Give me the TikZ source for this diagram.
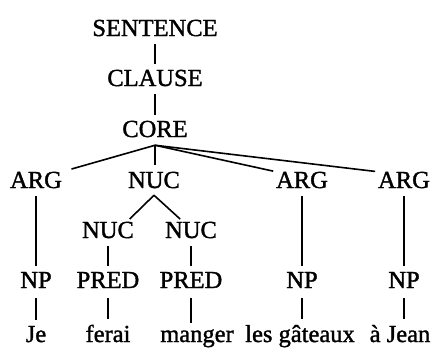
\documentclass[tikz,border=0pt]{standalone}
\usepackage{fontspec}
\setmainfont[FakeBold=1.4]{Liberation Serif}
\usetikzlibrary{positioning}

\begin{document}
\begin{tikzpicture}[x=1bp, y=-1bp,
        every node/.style={
            anchor=base,
            inner sep=0pt,
            outer sep=0pt,
            font=\fontsize{24.5bp}{28bp}\selectfont},
        branch/.style={line width=1.6bp, shorten <=8bp, shorten >=6bp},
        fan/.style={line width=1.6bp}]

        \useasboundingbox (0,0) rectangle (438,347);

        \node[](sentence) at (155,36) {SENTENCE};
        \node[](clause) at (155,86) {CLAUSE};
        \node[](core) at (155,137) {CORE};
        \node[](argje) at (36,188) {ARG};
        \node[](nuc) at (154,188) {NUC};
        \node[](arggateaux) at (302,188) {ARG};
        \node[](argjean) at (404,188) {ARG};
        \node[](nucferai) at (108,238) {NUC};
        \node[](nucmanger) at (191,238) {NUC};
        \node[](npje) at (36,288) {NP};
        \node[](predferai) at (108,288) {PRED};
        \node[](predmanger) at (191,288) {PRED};
        \node[](npgateaux) at (302,288) {NP};
        \node[](npjean) at (404,288) {NP};
        \node[](je) at (36,342) {Je};
        \node[](ferai) at (108,342) {ferai};
        \node[](manger) at (197,342) {manger};
        \node[](gateaux) at (300,342) {les gâteaux};
        \node[](jean) at (400,342) {à Jean};
        \coordinate[below=8bp of core] (corefoot);
        \coordinate[below=7bp of nuc] (nucfoot);

        \draw[branch] (sentence) -- (clause);
        \draw[branch] (clause) -- (core);
        \draw[fan, shorten >=10bp] (corefoot) -- (argje.north east);
        \draw[fan, shorten >=7bp] (corefoot) -- (corefoot |- nuc.north);
        \draw[fan, shorten >=3bp] (corefoot) -- (arggateaux.north west);
        \draw[fan, shorten >=3bp] (corefoot) -- (argjean.north west);
        \draw[fan, shorten >=4bp] (nucfoot) -- ([xshift=-7bp]nucferai.north east);
        \draw[fan, shorten >=4bp] (nucfoot) -- ([xshift=18bp]nucmanger.north west);
        \draw[branch] (argje) -- (npje);
        \draw[branch] (nucferai) -- (predferai);
        \draw[branch] (nucmanger) -- (predmanger);
        \draw[branch] (arggateaux) -- (npgateaux);
        \draw[branch] (argjean) -- (npjean);
        \draw[branch, shorten <=10bp] (npje) -- (je);
        \draw[branch, shorten <=10bp] (predferai) -- (ferai);
        \draw[branch, shorten <=10bp] (predmanger.south) -- (predmanger.south |- manger.north);
        \draw[branch, shorten <=10bp] (npgateaux.south) -- (npgateaux.south |- gateaux.north);
        \draw[branch, shorten <=10bp] (npjean.south) -- (npjean.south |- jean.north);
    \end{tikzpicture}
\end{document}
